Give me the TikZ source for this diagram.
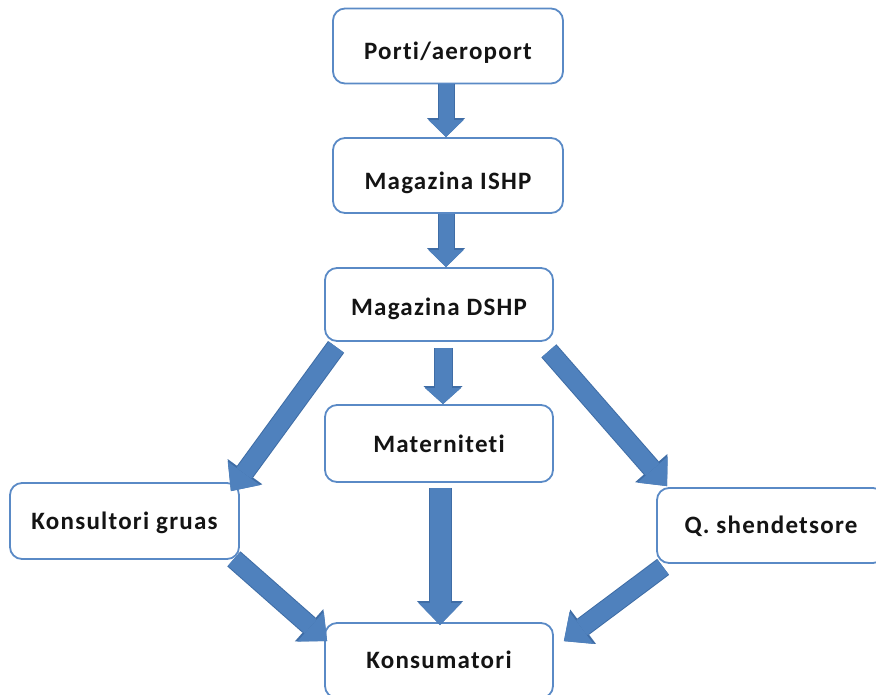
\documentclass[tikz,border=0pt]{standalone}
\usepackage{fontspec}
\setmainfont{Carlito}[LetterSpace=5,Ligatures=NoCommon]
\usetikzlibrary{arrows.meta,calc}
\definecolor{afill}{HTML}{4F81BD}
\definecolor{aline}{HTML}{3F6DA6}
\definecolor{bline}{HTML}{5A8AC6}
\begin{document}
\begin{tikzpicture}[x=1pt,y=-1pt,
  box/.style={draw=bline, line width=1.8pt, rounded corners=12pt, fill=white,
    minimum width=230pt, minimum height=75pt, inner sep=0pt,
    text height=16pt, text depth=0pt,
    font=\fontsize{25}{29}\selectfont\bfseries, text=black!92},
  blk/.style n args={6}{line width=#1, draw=afill,
    -{Triangle[length=#2,width=#3,line width=0pt]},
    preaction={draw=aline, line width=#4, -{Triangle[length=#5,width=#6,line width=0pt]}}},
  flowV/.style={blk={15pt}{17pt}{35pt}{17pt}{19pt}{38pt}},
  flowM/.style={blk={17pt}{16pt}{36pt}{19pt}{18pt}{39pt}},
  flowW/.style={blk={21pt}{22pt}{43pt}{23pt}{24pt}{46pt}},
  flowD/.style={blk={18pt}{22pt}{40pt}{20pt}{24pt}{43pt}}]
\useasboundingbox (0,0) rectangle (876,694);
\clip (0,0) rectangle (876,694);
\node[box, text height=26pt] (porti) at (448,46) {Porti/aeroport};
\node[box, text height=28pt] (ishp) at (448,175.5) {Magazina ISHP};
\node[box, text height=22pt, minimum width=228pt, minimum height=73pt] (dshp) at (439,304.5) {Magazina DSHP};
\node[box, text height=18pt, minimum width=228pt, minimum height=77pt] (mat) at (439,443.5) {Materniteti};
\node[box, minimum width=229pt, minimum height=76pt] (kons) at (124.5,521) {Konsultori gruas};
\node[box, minimum width=228pt, minimum height=75pt] (qsh) at (771,525.5) {Q. shendetsore};
\node[box, minimum width=228pt, minimum height=75pt] (cons) at (439,660.5) {Konsumatori};
\draw[flowV] ($(porti.south)+(-2,0)$) -- ($(ishp.north)+(-2,0)$);
\draw[flowV] ($(ishp.south)+(-2,0)$) -- ($(ishp.south |- dshp.north)+(-2,0)$);
\draw[flowM] ($(dshp.south)+(4,6)$) -- ($(mat.north)+(4,0)$);
\draw[flowW] ($(mat.south)+(1,5)$) -- ($(cons.north)+(1,3)$);
\draw[flowD] ($(dshp.south west)+(12,5)$) -- ($(kons.north east)+(-9,9)$);
\draw[flowD] ($(kons.south east)+(-6,-1)$) -- ($(cons.north west)+(3,19)$);
\draw[flowD] ($(dshp.south east)+(-5,9)$) -- ($(qsh.north west)+(11,-1)$);
\draw[flowD] ($(qsh.south west)+(7,3)$) -- ($(cons.north east)+(10,19)$);
\end{tikzpicture}
\end{document}
